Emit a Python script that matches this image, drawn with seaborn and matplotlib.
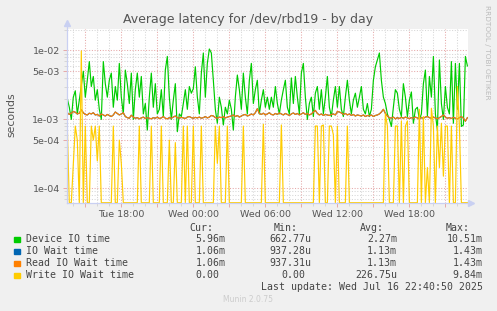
import numpy as np
import pandas as pd
import matplotlib
matplotlib.use("Agg")
import matplotlib.pyplot as plt
import matplotlib.dates as mdates
from matplotlib.ticker import FixedLocator, FixedFormatter, FuncFormatter
import seaborn as sns

# ---------------- data (seconds, 10-minute samples) ----------------
START = "2025-07-15 13:30"
N_POINTS = 201

device_io = [
    2.0, 1.5, 1.0, 2.1, 2.6, 1.2, 1.9, 3.1, 5.0, 2.1,
    3.7, 6.9, 3.0, 4.2, 1.9, 2.7, 1.4, 1.0, 6.9, 3.3,
    2.1, 3.7, 4.7, 1.5, 3.0, 1.9, 6.5, 2.1, 1.2, 5.2,
    3.3, 1.7, 4.7, 1.0, 2.7, 4.7, 2.1, 4.2, 1.2, 1.7,
    0.70, 2.1, 4.7, 1.5, 3.3, 1.2, 1.4, 2.7, 1.1, 5.2,
    8.2, 2.1, 1.0, 1.9, 3.3, 0.663, 1.2, 1.1, 1.7, 2.7,
    1.4, 3.0, 2.4, 2.8, 5.8, 2.1, 1.2, 4.7, 9.2, 2.1,
    6.5, 10.51, 9.2, 3.7, 1.4, 0.88, 2.1, 1.5, 0.83, 1.5,
    1.2, 1.9, 1.4, 0.70, 2.1, 4.4, 2.7, 1.4, 4.7, 2.1,
    1.2, 3.7, 6.5, 1.7, 2.7, 3.7, 1.2, 1.9, 2.7, 1.5,
    2.1, 1.4, 2.1, 1.5, 3.0, 1.7, 1.2, 1.9, 2.7, 3.7,
    1.5, 1.2, 4.0, 1.7, 4.2, 2.1, 1.2, 4.7, 6.5, 2.1,
    1.0, 1.7, 2.1, 1.1, 2.4, 3.0, 1.4, 2.7, 1.2, 2.1,
    4.2, 1.5, 1.1, 1.9, 3.0, 1.5, 3.0, 1.4, 1.1, 2.1,
    3.7, 1.9, 1.2, 1.9, 2.4, 1.5, 2.1, 3.0, 1.4, 1.2,
    1.7, 1.1, 1.4, 3.7, 5.8, 7.3, 9.2, 3.7, 2.1, 1.7,
    1.2, 1.0, 0.79, 1.5, 2.7, 2.4, 1.4, 1.1, 3.3, 2.1,
    1.1, 1.9, 2.5, 0.88, 1.4, 1.5, 1.0, 1.2, 3.3, 5.2,
    1.1, 4.2, 2.1, 8.2, 1.2, 0.70, 7.3, 1.7, 1.0, 3.0,
    1.5, 1.2, 6.9, 0.88, 6.5, 1.4, 6.5, 0.79, 0.83, 8.2,
    5.96,
]
device_io = [v * 1e-3 for v in device_io]

read_wait = [
    1.25, 1.18, 1.23, 1.30, 1.27, 1.20, 1.23, 1.38, 1.25, 1.18, 1.16,
    1.23, 1.20, 1.25, 1.16, 1.18, 1.12, 1.20, 1.16, 1.12, 1.18,
    1.14, 1.10, 1.16, 1.28, 1.22, 1.16, 1.20, 1.25, 1.10, 1.06,
    1.04, 1.15, 1.08, 1.04, 1.06, 1.02, 1.05, 1.08, 1.03, 1.06,
    1.04, 1.02, 1.06, 1.04, 1.08, 1.03, 1.05, 1.10, 1.04, 1.02,
    1.06, 1.04, 1.08, 1.12, 1.06, 1.04, 1.07, 1.05, 1.03, 1.08,
    1.10, 1.06, 1.04, 1.07, 1.05, 1.08, 1.04, 1.06, 1.10, 1.05,
    1.08, 1.14, 1.12, 1.06, 1.04, 1.08, 1.06, 1.10, 1.05, 1.08,
    1.10, 1.12, 1.16, 1.10, 1.14, 1.08, 1.12, 1.16, 1.18, 1.12,
    1.15, 1.20, 1.16, 1.25, 1.43, 1.22, 1.18, 1.23, 1.16, 1.20,
    1.25, 1.18, 1.16, 1.22, 1.18, 1.24, 1.20, 1.16, 1.22, 1.18,
    1.14, 1.20, 1.24, 1.18, 1.22, 1.16, 1.20, 1.25, 1.18, 1.22,
    1.16, 1.20, 1.28, 1.35, 1.22, 1.16, 1.20, 1.14, 1.18, 1.16,
    1.14, 1.18, 1.20, 1.16, 1.30, 1.28, 1.24, 1.18, 1.22, 1.16,
    1.20, 1.14, 1.18, 1.12, 1.16, 1.14, 1.12, 1.16, 1.10, 1.14,
    1.12, 1.16, 1.10, 1.14, 1.16, 1.20, 1.28, 1.40, 1.22, 1.12,
    1.06, 1.04, 1.08, 1.02, 1.06, 1.03, 1.07, 1.04, 1.08, 1.05,
    1.03, 1.06, 1.04, 1.08, 1.05, 1.02, 1.06, 1.04, 1.08, 1.10,
    1.06, 1.04, 1.08, 1.05, 1.02, 1.06, 1.10, 1.16, 1.08, 1.04,
    1.06, 1.03, 1.07, 1.04, 1.02, 1.06, 1.10, 1.04, 0.94, 1.06,
]
read_wait = [v * 1e-3 for v in read_wait]
io_wait = list(read_wait)

# write wait: sample index -> value (ms); all other samples are 0
write_spikes = {
    0: 0.80, 3: 0.23, 4: 0.80, 5: 0.50, 7: 9.84, 9: 0.80, 12: 0.80, 13: 0.50,
    14: 0.80, 15: 0.25, 16: 0.80, 23: 0.80, 26: 0.50, 27: 0.23, 36: 0.80,
    42: 0.80, 47: 0.80, 51: 0.50, 54: 0.46, 58: 0.80, 60: 0.80, 63: 0.80,
    67: 0.80, 74: 0.80, 75: 0.23, 76: 0.80, 80: 0.80, 88: 0.80, 98: 0.85,
    107: 0.83, 124: 0.80, 125: 0.80, 127: 0.80, 128: 0.83, 131: 0.80,
    132: 0.80, 133: 0.60, 135: 0.80, 140: 0.80, 159: 1.20, 160: 0.80,
    164: 0.80, 165: 0.80, 167: 0.95, 169: 0.80, 170: 0.95, 176: 1.40,
    178: 1.10, 180: 0.20, 182: 1.45, 183: 0.80, 185: 0.80, 186: 0.20,
    187: 0.88, 188: 0.15, 189: 0.80, 190: 0.80, 192: 0.80, 195: 3.00,
    196: 0.80,
}
write_wait = [write_spikes.get(i, 0.0) * 1e-3 for i in range(N_POINTS)]

series_names = ["Device IO time", "IO Wait time", "Read IO Wait time", "Write IO Wait time"]
series_colors = ["#00CC00", "#0066B3", "#FF8000", "#FFCC00"]
legend_cur = ["5.96m", "1.06m", "1.06m", "0.00"]
legend_min = ["662.77u", "937.28u", "937.31u", "0.00"]
legend_avg = ["2.27m", "1.13m", "1.13m", "226.75u"]
legend_max = ["10.51m", "1.43m", "1.43m", "9.84m"]

y_tick_values = [1e-4, 5e-4, 1e-3, 5e-3, 1e-2]
y_tick_labels = ["1e-04", "5e-04", "1e-03", "5e-03", "1e-02"]

# ---------------- figure ----------------
W, H = 497, 311
YMIN, YMAX = 6.18e-5, 2.03e-2
fig = plt.figure(figsize=(W / 100, H / 100), dpi=100)
fig.patch.set_facecolor("#F0F0F0")
L, R, T, B = 66.7, 468.0, 29.3, 202.7
ax = fig.add_axes([L / W, 1 - B / H, (R - L) / W, (B - T) / H])
ax.set_facecolor("white")

times = pd.date_range(START, periods=N_POINTS, freq="10min")
frames = []
for name, vals in zip(series_names, [device_io, io_wait, read_wait, write_wait]):
    v = np.maximum(np.asarray(vals, dtype=float), YMIN)  # rrdtool draws zero on the floor
    frames.append(pd.DataFrame({"time": times, "value": v, "series": name}))
df = pd.concat(frames, ignore_index=True)

ax.set_yscale("log")
sns.lineplot(data=df, x="time", y="value", hue="series", hue_order=series_names,
             palette=dict(zip(series_names, series_colors)), estimator=None,
             sort=False, legend=False, linewidth=0.85, ax=ax)

ax.set_ylim(YMIN, YMAX)
ax.set_xlim(pd.Timestamp("2025-07-15 13:27"), pd.Timestamp("2025-07-16 22:53"))

# y ticks / grid
minor_y = [m * 10.0 ** e for e in (-5, -4, -3, -2) for m in (2, 3, 4, 6, 7, 8, 9)]
minor_y = [v for v in minor_y if YMIN <= v <= YMAX]
ax.yaxis.set_major_locator(FixedLocator(y_tick_values))
ax.yaxis.set_major_formatter(FixedFormatter(y_tick_labels))
ax.yaxis.set_minor_locator(FixedLocator(minor_y))
ax.yaxis.set_minor_formatter(FixedFormatter([""] * len(minor_y)))

# x ticks / grid
ax.xaxis.set_major_locator(mdates.HourLocator(byhour=range(0, 24, 3)))
ax.xaxis.set_minor_locator(mdates.HourLocator())
def fmt_x(x, pos=None):
    d = mdates.num2date(x)
    return d.strftime("%a %H:%M") if d.hour % 6 == 0 else ""
ax.xaxis.set_major_formatter(FuncFormatter(fmt_x))

red = "#E5A8A8"
grey = "#D6D6D6"
ax.set_axisbelow(True)
ax.grid(which="major", color=red, linestyle=(0, (1, 1.6)), linewidth=0.75)
ax.grid(which="minor", color=grey, linestyle=(0, (1, 1.6)), linewidth=0.75)
ax.tick_params(which="major", length=3, width=0.7, color=red, labelsize=6.8,
               labelcolor="#555555", pad=2)
ax.tick_params(which="minor", length=2, width=0.7, color=grey)

for s in ("top", "right"):
    ax.spines[s].set_visible(False)
axis_col = "#C9D0F2"
for s in ("left", "bottom"):
    ax.spines[s].set_color(axis_col)
    ax.spines[s].set_linewidth(0.9)
ax.spines["left"].set_bounds(YMIN, YMAX * 1.15)
ax.plot([0], [(B - 23.3) / (B - T)], marker="^", ms=4.5, color=axis_col,
        transform=ax.transAxes, clip_on=False)
ax.plot([(471.0 - L) / (R - L)], [0], marker=">", ms=4.5, color=axis_col,
        transform=ax.transAxes, clip_on=False)

ax.set_xlabel("")
ax.set_ylabel("")
fig.text(11 / W, 1 - 115 / H, "seconds", rotation=90, ha="center", va="center",
         fontsize=7.8, color="#555555")
fig.text(248 / W, 1 - 19 / H, "Average latency for /dev/rbd19 - by day",
         ha="center", va="center", fontsize=9, color="#555555")
fig.text(487 / W, 1 - 5 / H, "RRDTOOL / TOBI OETIKER", rotation=270,
         ha="center", va="top", fontsize=5.3, color="#BBBBBB")

# ---------------- legend ----------------
mono = dict(family="DejaVu Sans Mono", fontsize=7.1, color="#444444", va="center")
def px(x, y):
    return x / W, 1 - y / H

for lab, xr in zip(["Cur:", "Min:", "Avg:", "Max:"], [213, 298, 384, 470]):
    fig.text(*px(xr, 227.7), lab, ha="right", **mono)
rows_y = [239.3, 251.3, 263.3, 275.3]
for i, name in enumerate(series_names):
    y = rows_y[i]
    fig.patches.append(plt.Rectangle(px(14, y + 2.7), 5.5 / W, 5.5 / H,
                                     transform=fig.transFigure,
                                     color=series_colors[i], figure=fig))
    fig.text(*px(26.3, y), name, ha="left", **mono)
    cur, mn = legend_cur[i], legend_min[i]
    fig.text(*px(225.7 if cur[-1].isalpha() else 219.6, y), cur, ha="right", **mono)
    fig.text(*px(311.0 if mn[-1].isalpha() else 305.0, y), mn, ha="right", **mono)
    fig.text(*px(397.0, y), legend_avg[i], ha="right", **mono)
    fig.text(*px(482.7, y), legend_max[i], ha="right", **mono)
fig.text(*px(482.7, 287.3), "Last update: Wed Jul 16 22:40:50 2025", ha="right", **mono)
fig.text(*px(248, 300), "Munin 2.0.75", ha="center", va="center", fontsize=5.5,
         color="#CCCCCC")

fig.savefig("out.png", dpi=100, facecolor=fig.get_facecolor())
